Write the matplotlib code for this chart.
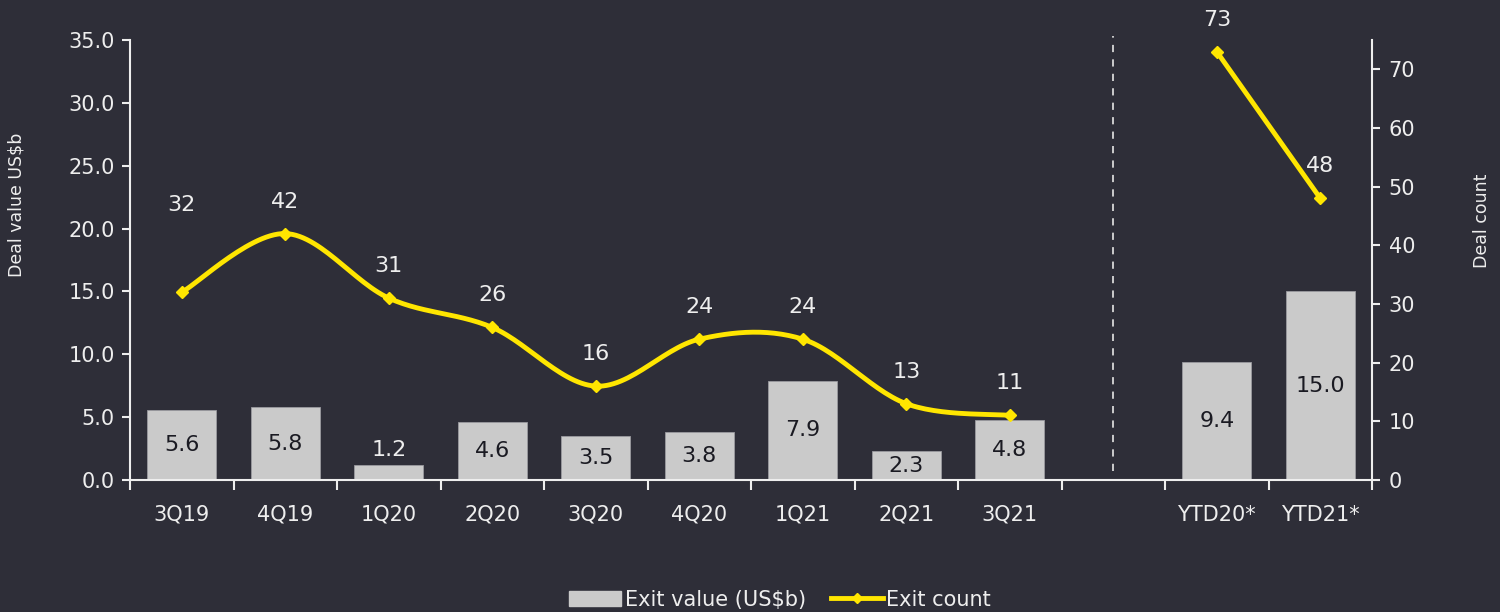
import matplotlib
matplotlib.use("Agg")
import matplotlib.pyplot as plt
from matplotlib.patches import Patch
from matplotlib.lines import Line2D
import numpy as np

# data
categories = ["3Q19", "4Q19", "1Q20", "2Q20", "3Q20", "4Q20", "1Q21", "2Q21", "3Q21", "", "YTD20*", "YTD21*"]
quarter_idx = [0, 1, 2, 3, 4, 5, 6, 7, 8]
ytd_idx = [10, 11]
quarter_value = [5.6, 5.8, 1.2, 4.6, 3.5, 3.8, 7.9, 2.3, 4.8]
ytd_value = [9.4, 15.0]
quarter_count = [32, 42, 31, 26, 16, 24, 24, 13, 11]
ytd_count = [73, 48]

BG = "#2e2e38"
BAR = "#cacaca"
YEL = "#ffe600"
TXT = "#eeeeee"

plt.rcParams["font.family"] = ["DejaVu Sans"]

fig = plt.figure(figsize=(15, 6.12), dpi=100, facecolor=BG)
ax = fig.add_axes([0.0867, 0.2157, 0.828, 0.719])
ax.set_facecolor(BG)
ax2 = ax.twinx()

# bars
bar_x = quarter_idx + ytd_idx
bar_v = quarter_value + ytd_value
ax.bar(bar_x, bar_v, width=0.67, color=BAR, edgecolor="#9a9aa0", linewidth=0.6, zorder=2)
for x, v in zip(bar_x, bar_v):
    if v < 2:
        ax.text(x, v + 0.4, f"{v:.1f}", ha="center", va="bottom", color=TXT, fontsize=16)
    else:
        ax.text(x, v / 2, f"{v:.1f}", ha="center", va="center", color="#1a1a22", fontsize=16)

ax.set_xlim(-0.5, len(categories) - 0.5)
ax.set_ylim(0, 35)
ax.set_yticks(np.arange(0, 36, 5))
ax.set_yticklabels([f"{t:.1f}" for t in np.arange(0, 36, 5)])
ax.set_xticks(range(len(categories)))
ax.set_xticklabels(categories)
ax.set_xticks(np.arange(-0.5, len(categories), 1), minor=True)
ax.tick_params(axis="x", which="major", length=0, pad=18, colors=TXT, labelsize=15)
ax.tick_params(axis="x", which="minor", length=7, width=1.5, color=TXT)
ax.tick_params(axis="y", length=6, width=1.5, colors=TXT, labelsize=15, pad=5)
ax.set_ylabel("Deal value US$b", color=TXT, fontsize=12.5)
ax.yaxis.set_label_coords(-0.0845, 0.625)

# smooth line (Excel-like bezier)
def smooth(xs, ys, n=30):
    p = np.column_stack([xs, ys]).astype(float)
    p = np.vstack([p[0], p, p[-1]])
    out = []
    for i in range(1, len(p) - 2):
        p0, p1, p2, p3 = p[i - 1], p[i], p[i + 1], p[i + 2]
        c1 = p1 + (p2 - p0) / 6
        c2 = p2 - (p3 - p1) / 6
        t = np.linspace(0, 1, n)[:, None]
        seg = (1 - t) ** 3 * p1 + 3 * (1 - t) ** 2 * t * c1 + 3 * (1 - t) * t ** 2 * c2 + t ** 3 * p2
        out.append(seg)
    out = np.vstack(out)
    return out[:, 0], out[:, 1]

sx, sy = smooth(quarter_idx, quarter_count)
ax2.plot(sx, sy, color=YEL, lw=3.5, zorder=3)
ax2.plot(quarter_idx, quarter_count, "D", color=YEL, ms=6, zorder=4)
ax2.plot(ytd_idx, ytd_count, "-D", color=YEL, lw=3.5, ms=6, zorder=4)

# label offsets in pixels above each point
label_dy = {0: 87}
for i, (x, c) in enumerate(zip(quarter_idx + ytd_idx, quarter_count + ytd_count)):
    dy = label_dy.get(i, 32)
    ax2.annotate(str(c), (x, c), xytext=(0, dy), textcoords="offset pixels",
                 ha="center", va="center", color=TXT, fontsize=16, annotation_clip=False)

ax2.set_ylim(0, 75)
ax2.set_yticks(np.arange(0, 71, 10))
ax2.tick_params(axis="y", length=6, width=1.5, colors=TXT, labelsize=15, pad=6)
ax2.set_ylabel("Deal count", color=TXT, fontsize=12.5, rotation=90)
ax2.yaxis.set_label_coords(1.081, 0.589)

for a in (ax, ax2):
    a.spines["top"].set_visible(False)
    for s in ("left", "right", "bottom"):
        a.spines[s].set_color(TXT)
        a.spines[s].set_linewidth(1.5)
ax.spines["right"].set_visible(False)
ax2.spines["left"].set_visible(False)
ax2.spines["bottom"].set_visible(False)

# separator
ax.axvline(9, ymin=0.02, ymax=1.01, color="#d8d8d8", lw=1.3, ls=(0, (4, 4)), clip_on=False)

handles = [Patch(facecolor=BAR, edgecolor=BAR),
           Line2D([0], [0], color=YEL, lw=3.5, marker="D", ms=5)]
fig.legend(handles, ["Exit value (US$b)", "Exit count"], loc="center", bbox_to_anchor=(0.52, 0.02),
           ncol=2, frameon=False, fontsize=15, labelcolor=TXT, handlelength=2.5,
           handletextpad=0.15, columnspacing=1.2)

fig.savefig("out.png", dpi=100, facecolor=BG)
